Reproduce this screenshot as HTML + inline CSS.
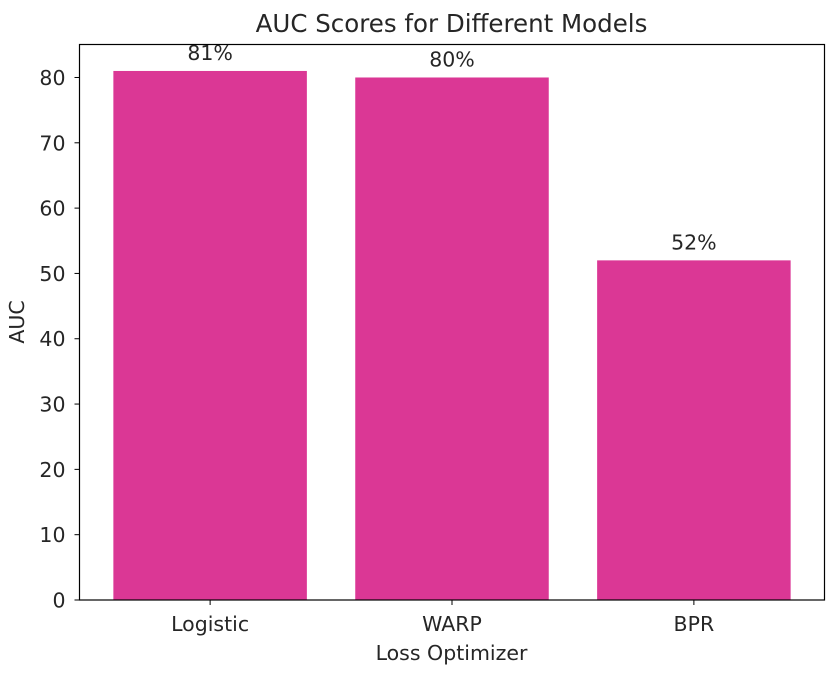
<!DOCTYPE html>
<html><head><meta charset="utf-8"><style>
body{margin:0;background:#fff}
svg text{font-family:"DejaVu Sans","Liberation Sans",sans-serif;fill:#262626}
</style></head><body>
<svg id="chart" width="836" height="676" xmlns="http://www.w3.org/2000/svg">
<text x="451.5" y="32" font-size="24.5" text-anchor="middle">AUC Scores for Different Models</text>
<g id="bars"></g><g id="yticks"></g><g id="xticks"></g>
<rect x="79.5" y="44.5" width="745" height="555.5" fill="none" stroke="#000" stroke-width="1.2"/>
<text x="451.5" y="660" font-size="20.5" text-anchor="middle">Loss Optimizer</text>
<text transform="translate(24,322) rotate(-90)" font-size="20.5" text-anchor="middle">AUC</text>
</svg>
<script>
const categories=["Logistic","WARP","BPR"];
const values=[81,80,52];
const labels=["81%","80%","52%"];
const yTicks=[0,10,20,30,40,50,60,70,80];
const L=79.5,R=824.5,T=44.5,B=600;
const yMax=85.05,xMin=-0.54,xMax=2.54;
const y=v=>B-(v/yMax)*(B-T);
const x=i=>L+(i-xMin)/(xMax-xMin)*(R-L);
const bw=0.8*(R-L)/(xMax-xMin);
const NS="http://www.w3.org/2000/svg";
const mk=(t,a,p)=>{const e=document.createElementNS(NS,t);for(const k in a)e.setAttribute(k,a[k]);p.appendChild(e);return e;};
const gb=document.getElementById('bars'),gy=document.getElementById('yticks'),gx=document.getElementById('xticks');
categories.forEach((c,i)=>{
 const r=mk('rect',{x:x(i)-bw/2,y:y(values[i]),width:bw,height:B-y(values[i]),fill:'#db3795'},gb);
 
 
 const t=mk('text',{x:x(i),y:y(values[i])-11,'font-size':20.5,'text-anchor':'middle'},gb);t.textContent=labels[i];
 
 
 mk('line',{x1:x(i),x2:x(i),y1:B,y2:B+5,stroke:'#000'},gx);
 const xt=mk('text',{x:x(i),y:B+31,'font-size':20.5,'text-anchor':'middle'},gx);xt.textContent=c;
 
 
});
yTicks.forEach(v=>{
 mk('line',{x1:L-5,x2:L,y1:y(v),y2:y(v),stroke:'#000'},gy);
 const t=mk('text',{x:L-14,y:y(v)+7.5,'font-size':20.5,'text-anchor':'end'},gy);t.textContent=v;
 
 
});
</script>
</body></html>
